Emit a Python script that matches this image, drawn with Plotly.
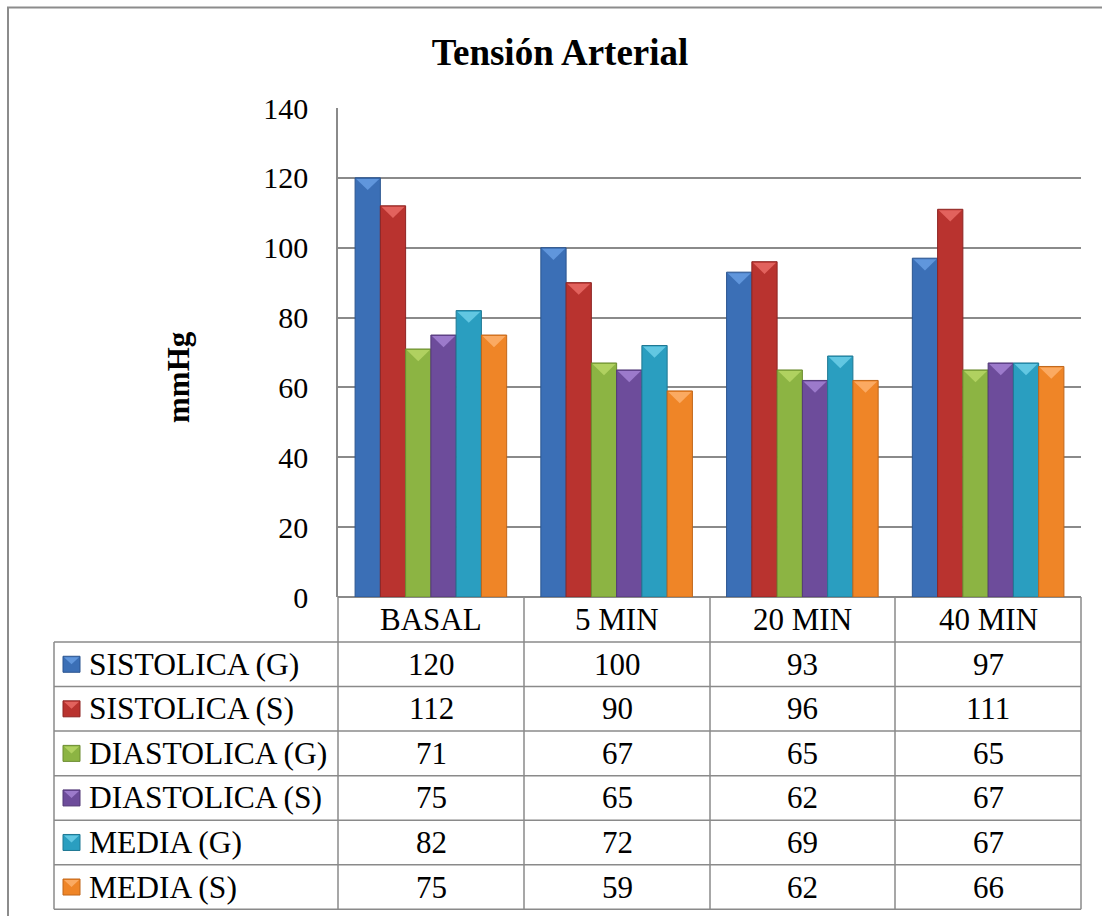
import plotly.graph_objects as go

# ---- data ---------------------------------------------------------------
categories = ["BASAL", "5 MIN", "20 MIN", "40 MIN"]
series_names = ["SISTOLICA (G)", "SISTOLICA (S)", "DIASTOLICA (G)",
                "DIASTOLICA (S)", "MEDIA (G)", "MEDIA (S)"]
sistolica_g = [120, 100, 93, 97]
sistolica_s = [112, 90, 96, 111]
diastolica_g = [71, 67, 65, 65]
diastolica_s = [75, 65, 62, 67]
media_g = [82, 72, 69, 67]
media_s = [75, 59, 62, 66]
y_ticks = [0, 20, 40, 60, 80, 100, 120, 140]

series_values = [sistolica_g, sistolica_s, diastolica_g,
                 diastolica_s, media_g, media_s]

# ---- styling ------------------------------------------------------------
body_colors = ["#3b6fb6", "#b9332f", "#8cb443", "#6d4c9b", "#2a9ec0", "#ef8527"]
edge_colors = ["#2b5590", "#8e2523", "#6c8c30", "#523877", "#1f7893", "#c0661a"]
light_colors = ["#6096dc", "#e2625d", "#b0d160", "#9c7acb", "#62c7e2", "#fbaa62"]

W, H = 1102, 916
L, R, T, B = 338, 21, 108, 319
PW, PH = W - L - R, H - T - B
FONT = "Times New Roman, Liberation Serif, serif"
GRID = "#8a8a8a"

BAR_W = 0.136            # width of a single bar in category units
GROUP_START = -0.408     # left edge of the first bar relative to the category
BEVEL = 3.5              # depth of the bevel triangle at the top of a bar


def px(x):
    """Horizontal pixel -> paper coordinate."""
    return (x - L) / PW


def py(y):
    """Vertical pixel -> paper coordinate."""
    return (H - B - y) / PH


fig = go.Figure()
shapes = []
annotations = []

x_idx = list(range(len(categories)))
for j, (name, vals) in enumerate(zip(series_names, series_values)):
    off = GROUP_START + j * BAR_W
    fig.add_trace(go.Bar(
        x=x_idx, y=vals, name=name,
        width=[BAR_W] * len(vals), offset=[off] * len(vals),
        marker=dict(color=body_colors[j],
                    line=dict(color=edge_colors[j], width=1)),
        showlegend=False,
    ))
    # bevel facet on top of every bar
    for i, v in zip(x_idx, vals):
        x0 = i + off + 0.006
        x1 = i + off + BAR_W - 0.006
        xc = (x0 + x1) / 2
        shapes.append(dict(
            type="path", xref="x", yref="y",
            path=f"M{x0},{v - 0.3} L{x1},{v - 0.3} L{xc},{v - BEVEL} Z",
            fillcolor=light_colors[j], line=dict(width=0), layer="above",
        ))

# ---- data table under the plot -----------------------------------------
TABLE_L = 54
COL_X = [338, 524, 710, 895, 1081]
HEAD_TOP = 597
ROW_TOP = 642
ROW_H = 44.55
n_rows = len(series_names)
TABLE_B = ROW_TOP + n_rows * ROW_H
line_style = dict(color=GRID, width=1.5)

# horizontal rules
for r in range(n_rows + 1):
    yy = ROW_TOP + r * ROW_H
    shapes.append(dict(type="line", xref="paper", yref="paper",
                       x0=px(TABLE_L), x1=px(COL_X[-1]), y0=py(yy), y1=py(yy),
                       line=line_style))
# vertical rules
shapes.append(dict(type="line", xref="paper", yref="paper",
                   x0=px(TABLE_L), x1=px(TABLE_L), y0=py(ROW_TOP), y1=py(TABLE_B),
                   line=line_style))
for cx in COL_X:
    shapes.append(dict(type="line", xref="paper", yref="paper",
                       x0=px(cx), x1=px(cx), y0=py(HEAD_TOP), y1=py(TABLE_B),
                       line=line_style))

text_font = dict(family=FONT, size=31, color="black")

# category headers
for c, cat in enumerate(categories):
    annotations.append(dict(
        text=cat, xref="paper", yref="paper",
        x=px((COL_X[c] + COL_X[c + 1]) / 2), y=py((HEAD_TOP + ROW_TOP) / 2),
        xanchor="center", yanchor="middle", showarrow=False, font=text_font,
    ))

# legend keys, series labels and values
for j, (name, vals) in enumerate(zip(series_names, series_values)):
    cy = ROW_TOP + j * ROW_H + ROW_H / 2
    kx0, kx1 = 63, 80
    ky0, ky1 = cy - 8, cy + 8
    shapes.append(dict(type="rect", xref="paper", yref="paper",
                       x0=px(kx0), x1=px(kx1), y0=py(ky1), y1=py(ky0),
                       fillcolor=body_colors[j],
                       line=dict(color=edge_colors[j], width=1)))
    shapes.append(dict(type="path", xref="paper", yref="paper",
                       path=(f"M{px(kx0 + 1)},{py(ky0 + 1)} L{px(kx1 - 1)},{py(ky0 + 1)} "
                             f"L{px((kx0 + kx1) / 2)},{py(ky0 + 8)} Z"),
                       fillcolor=light_colors[j], line=dict(width=0)))
    annotations.append(dict(
        text=name, xref="paper", yref="paper",
        x=px(87), y=py(cy), xanchor="left", yanchor="middle", showarrow=False,
        font=dict(family=FONT, size=31.5, color="black"),
    ))
    for c, v in enumerate(vals):
        annotations.append(dict(
            text=str(v), xref="paper", yref="paper",
            x=px((COL_X[c] + COL_X[c + 1]) / 2), y=py(cy),
            xanchor="center", yanchor="middle", showarrow=False, font=text_font,
        ))

# y-axis title
annotations.append(dict(
    text="<b>mmHg</b>", xref="paper", yref="paper",
    x=px(178), y=py(377), xanchor="center", yanchor="middle",
    textangle=-90, showarrow=False, font=text_font,
))

# outer chart frame
shapes.append(dict(type="rect", xref="paper", yref="paper",
                   x0=px(8), x1=px(W + 20), y0=py(H + 20), y1=py(7.5),
                   line=dict(color="#8c8c8c", width=2), fillcolor="rgba(0,0,0,0)"))

fig.update_layout(
    width=W, height=H,
    margin=dict(l=L, r=R, t=T, b=B),
    paper_bgcolor="white", plot_bgcolor="white",
    barmode="overlay",
    font=dict(family=FONT),
    title=dict(text="<b>Tensión Arterial</b>", x=560 / W, xanchor="center",
               y=1 - 52 / H, yanchor="middle",
               font=dict(family=FONT, size=37, color="black")),
    xaxis=dict(range=[-0.5, len(categories) - 0.5], showticklabels=False,
               showgrid=False, zeroline=False, showline=False, fixedrange=True),
    yaxis=dict(range=[0, 140], tickvals=y_ticks, ticktext=[str(t) for t in y_ticks],
               showgrid=True, gridcolor=GRID, gridwidth=1.5,
               zeroline=True, zerolinecolor=GRID, zerolinewidth=1.5,
               showline=True, linecolor=GRID, linewidth=1.5,
               ticks="", ticklabelstandoff=22,
               tickfont=dict(family=FONT, size=30, color="black")),
    shapes=shapes,
    annotations=annotations,
)

fig.write_html("out.html")
